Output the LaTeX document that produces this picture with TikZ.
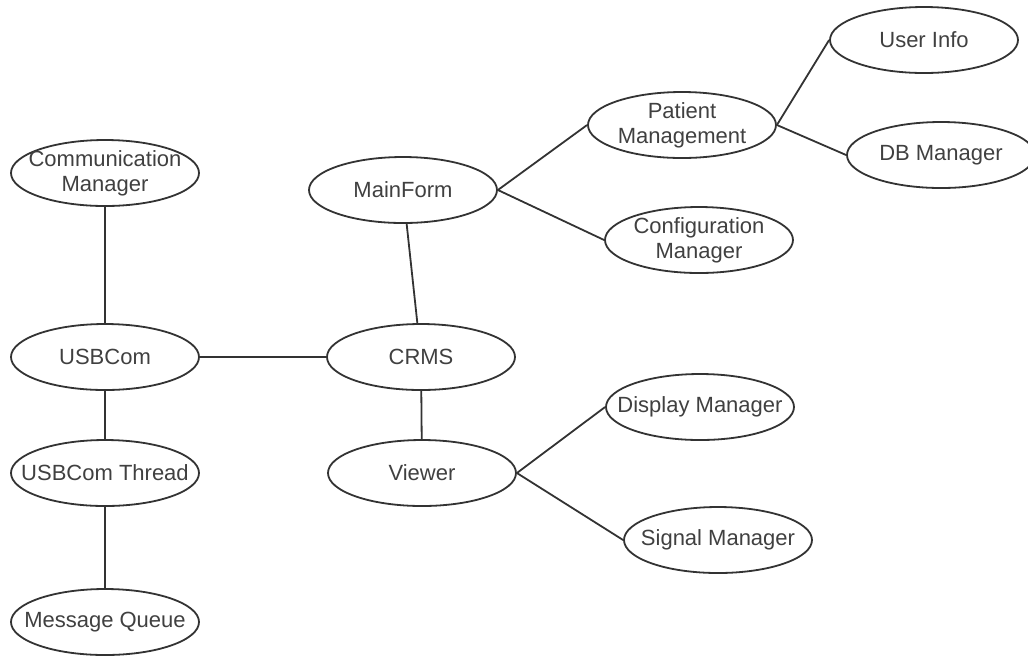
\documentclass[tikz,border=0pt]{standalone}
\usepackage{fontspec}
\setmainfont{Liberation Sans}
\usetikzlibrary{shapes.geometric}
\definecolor{inkgray}{HTML}{333333}
\definecolor{textgray}{HTML}{404040}

\begin{document}
\begin{tikzpicture}[x=0.5pt, y=-0.5pt,
    part/.style={ellipse, draw=inkgray, line width=0.9pt, minimum width=94pt, minimum height=33pt,
      inner xsep=-25pt, inner ysep=-4pt, align=center, text=textgray,
      font=\fontsize{11}{12.5}\selectfont},
    link/.style={draw=inkgray, line width=0.9pt}]
    \useasboundingbox (0,0) rectangle (1028,655);

    \node[part] at (105, 173) (commMgr) {Communication\\Manager};
    \node[part] at (105, 357) (usbCom) {USBCom};
    \node[part] at (105, 473) (usbThread) {USBCom Thread};
    \node[part] at (105, 622) (msgQueue) {Message Queue};

    \node[part] at (403, 190) (mainForm) {MainForm};
    \node[part] at (421, 357) (crms) {CRMS};
    \node[part] at (422, 473) (viewer) {Viewer};

    \node[part] at (682, 125) (patMgmt) {Patient\\Management};
    \node[part] at (699, 240) (confMgr) {Configuration\\Manager};
    \node[part] at (924, 40) (userInfo) {User Info};
    \node[part] at (941, 155) (dbMgr) {DB Manager};
    \node[part] at (700, 407) (dispMgr) {Display Manager};
    \node[part] at (718, 540) (sigMgr) {Signal Manager};

    \draw[link] (commMgr) -- (usbCom);
    \draw[link] (usbCom) -- (usbThread);
    \draw[link] (usbThread) -- (msgQueue);
    \draw[link] (usbCom) -- (crms);
    \draw[link] (mainForm) -- (crms);
    \draw[link] (crms) -- (viewer);
    \draw[link] (mainForm.east) -- (patMgmt.west);
    \draw[link] (mainForm.east) -- (confMgr.west);
    \draw[link] (patMgmt.east) -- (userInfo.west);
    \draw[link] (patMgmt.east) -- (dbMgr.west);
    \draw[link] (viewer.east) -- (dispMgr.west);
    \draw[link] (viewer.east) -- (sigMgr.west);
\end{tikzpicture}
\end{document}
